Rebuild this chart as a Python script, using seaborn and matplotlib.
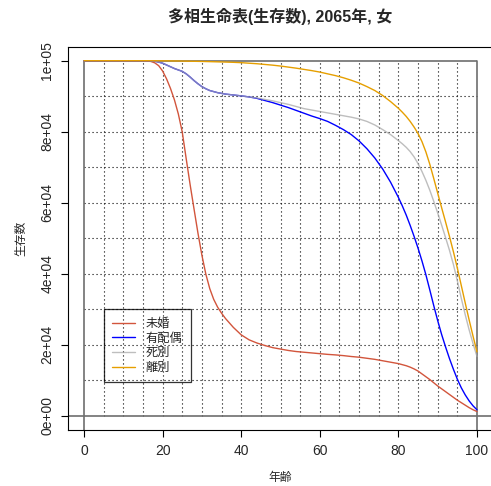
import matplotlib
matplotlib.use("Agg")
import matplotlib.pyplot as plt
import seaborn as sns
import numpy as np

# ---- data (values in thousands of survivors) ----
ages = [0, 10, 14, 16, 17, 18, 19, 20, 21, 22, 23, 24, 25, 26, 27, 28, 29, 30, 31, 32,
        33, 34, 35, 36, 38, 40, 42, 44, 46, 48, 50, 52, 54, 56, 58, 60, 62, 64, 66, 68,
        70, 72, 74, 76, 78, 80, 81, 82, 83, 84, 85, 86, 87, 88, 89, 90, 91, 92, 93, 94,
        95, 96, 97, 98, 99, 100]

never_married = [100, 100, 100, 99.95, 99.8, 99.4, 98.6, 97.1, 94.9, 92.2, 89.0, 85.0, 79.9, 72.4,
                 65.1, 58.2, 51.4, 45.2, 39.9, 35.8, 32.8, 30.6, 28.9, 27.4, 24.9, 22.8, 21.4,
                 20.5, 19.8, 19.2, 18.8, 18.4, 18.1, 17.9, 17.7, 17.5, 17.3, 17.15, 16.95, 16.7,
                 16.5, 16.2, 15.9, 15.5, 15.1, 14.7, 14.4, 14.1, 13.7, 13.2, 12.6, 11.8, 11.0,
                 10.2, 9.3, 8.4, 7.6, 6.8, 6.0, 5.2, 4.4, 3.7, 3.0, 2.3, 1.7, 1.2]

married = [100, 100, 100, 100, 99.95, 99.85, 99.6, 99.3, 98.8, 98.3, 97.8, 97.4, 97.0, 96.3, 95.4,
           94.4, 93.5, 92.7, 92.1, 91.6, 91.3, 91.0, 90.8, 90.6, 90.35, 90.1, 89.8, 89.4, 88.8,
           88.2, 87.5, 86.8, 86.0, 85.2, 84.4, 83.7, 82.9, 81.8, 80.6, 79.2, 77.4, 75.2, 72.6,
           69.5, 65.8, 61.5, 59.1, 56.5, 53.6, 50.5, 47.2, 43.6, 39.7, 35.4, 31.0, 26.8, 22.9,
           19.4, 16.1, 13.1, 10.3, 7.9, 5.9, 4.2, 2.8, 1.7]

widowed = [100, 100, 100, 100, 99.95, 99.85, 99.6, 99.3, 98.8, 98.3, 97.8, 97.4, 97.0, 96.3, 95.4,
           94.4, 93.5, 92.7, 92.1, 91.6, 91.3, 91.0, 90.8, 90.6, 90.35, 90.1, 89.8, 89.5, 89.1,
           88.7, 88.2, 87.7, 87.1, 86.5, 86.1, 85.7, 85.3, 84.9, 84.5, 84.1, 83.6, 82.9, 81.9,
           80.6, 79.2, 77.5, 76.6, 75.6, 74.4, 72.9, 71.0, 68.8, 66.3, 63.5, 60.4, 57.1, 53.7,
           50.2, 46.6, 42.6, 38.0, 33.1, 28.5, 24.2, 20.3, 16.7]

divorced = [100, 100, 100, 100, 100, 99.99, 99.98, 99.97, 99.96, 99.95, 99.93, 99.92, 99.9, 99.88,
            99.86, 99.84, 99.82, 99.8, 99.77, 99.74, 99.71, 99.68, 99.65, 99.62, 99.55, 99.45,
            99.3, 99.15, 98.95, 98.75, 98.5, 98.2, 97.9, 97.55, 97.2, 96.8, 96.3, 95.8, 95.2,
            94.5, 93.7, 92.7, 91.6, 90.2, 88.5, 86.6, 85.5, 84.3, 82.9, 81.3, 79.5, 77.2, 74.3,
            70.8, 66.8, 62.7, 58.6, 54.6, 50.5, 46.2, 41.6, 36.7, 31.8, 27.0, 22.4, 18.0]

series_labels = ["未婚", "有配偶", "死別", "離別"]
x_ticks = [0, 20, 40, 60, 80, 100]
y_ticks = [0, 20000, 40000, 60000, 80000, 100000]
y_tick_labels = ["0e+00", "2e+04", "4e+04", "6e+04", "8e+04", "1e+05"]
title = "多相生命表(生存数), 2065年, 女"
x_label = "年齢"
y_label = "生存数"

SCALE = 1000

# ---- style ----
sns.set_style("white")
plt.rcParams["font.family"] = ["Liberation Sans", "Noto Sans CJK JP"]
plt.rcParams["axes.unicode_minus"] = False

fig = plt.figure(figsize=(4.91, 4.86), dpi=100)
ax = fig.add_axes([0.1391, 0.1152, 0.8644, 0.7891])
ax.set_xlim(-4, 104)
ax.set_ylim(-4000, 104000)

# dotted grid inside the data range
dots = (0, (1, 2.6))
ax.vlines(np.arange(5, 100, 5), 0, 100000, colors="black", linestyles=dots, lw=0.8, zorder=1)
ax.hlines(np.arange(10000, 100000, 10000), 0, 100, colors="black", linestyles=dots, lw=0.8, zorder=1)

# reference frame lines
frame_col = "#6e6e6e"
ytop = (100000 - (-4000)) / 108000
ax.axvline(0, ymin=0, ymax=ytop, color=frame_col, lw=1.2, zorder=2)
ax.axvline(100, ymin=0, ymax=ytop, color=frame_col, lw=1.2, zorder=2)
ax.hlines(100000, 0, 100, colors=frame_col, lw=1.2, zorder=2)
ax.axhline(0, color=frame_col, lw=1.2, zorder=2)

ages_arr = np.array(ages)
styles = [
    (never_married, "#D2553C", 1.0),
    (married, "#0000FF", 1.0),
    (widowed, "#A8A8A8", 0.75),
    (divorced, "#E69F00", 1.0),
]
handles = []
for (vals, col, a), lab in zip(styles, series_labels):
    sns.lineplot(x=ages_arr, y=np.array(vals) * SCALE, color=col, lw=1.0, alpha=a,
                 ax=ax, label=lab, zorder=3)
    handles.append(ax.lines[-1])

leg = ax.legend(handles, series_labels, loc="upper left", bbox_to_anchor=(5, 30000),
                bbox_transform=ax.transData, borderaxespad=0, frameon=True, fancybox=False,
                edgecolor="black", facecolor="none", fontsize=8.8, handlelength=1.9,
                handletextpad=0.8, borderpad=0.7, labelspacing=0.22)
leg.get_frame().set_linewidth(0.9)

# axes / ticks
for s in ax.spines.values():
    s.set_color("black")
    s.set_linewidth(0.8)
ax.set_xticks(x_ticks)
ax.set_xticklabels([str(v) for v in x_ticks])
ax.set_yticks(y_ticks)
ax.set_yticklabels(y_tick_labels)
ax.tick_params(axis="both", direction="out", length=5, width=0.8, color="black",
               labelsize=10, pad=5, left=True, bottom=True, right=False, top=False)
for lbl in ax.get_yticklabels():
    lbl.set_rotation(90)
    lbl.set_va("center")

ax.set_title(title, fontsize=11.5, fontweight="bold", y=1.0777, pad=0, va="center")
ax.set_xlabel(x_label, fontsize=8.5, va="center")
ax.xaxis.set_label_coords(0.5, -0.126)
ax.set_ylabel(y_label, fontsize=8.5, va="center")
ax.yaxis.set_label_coords(-0.11, 0.5)

fig.savefig("out.png", dpi=100)
